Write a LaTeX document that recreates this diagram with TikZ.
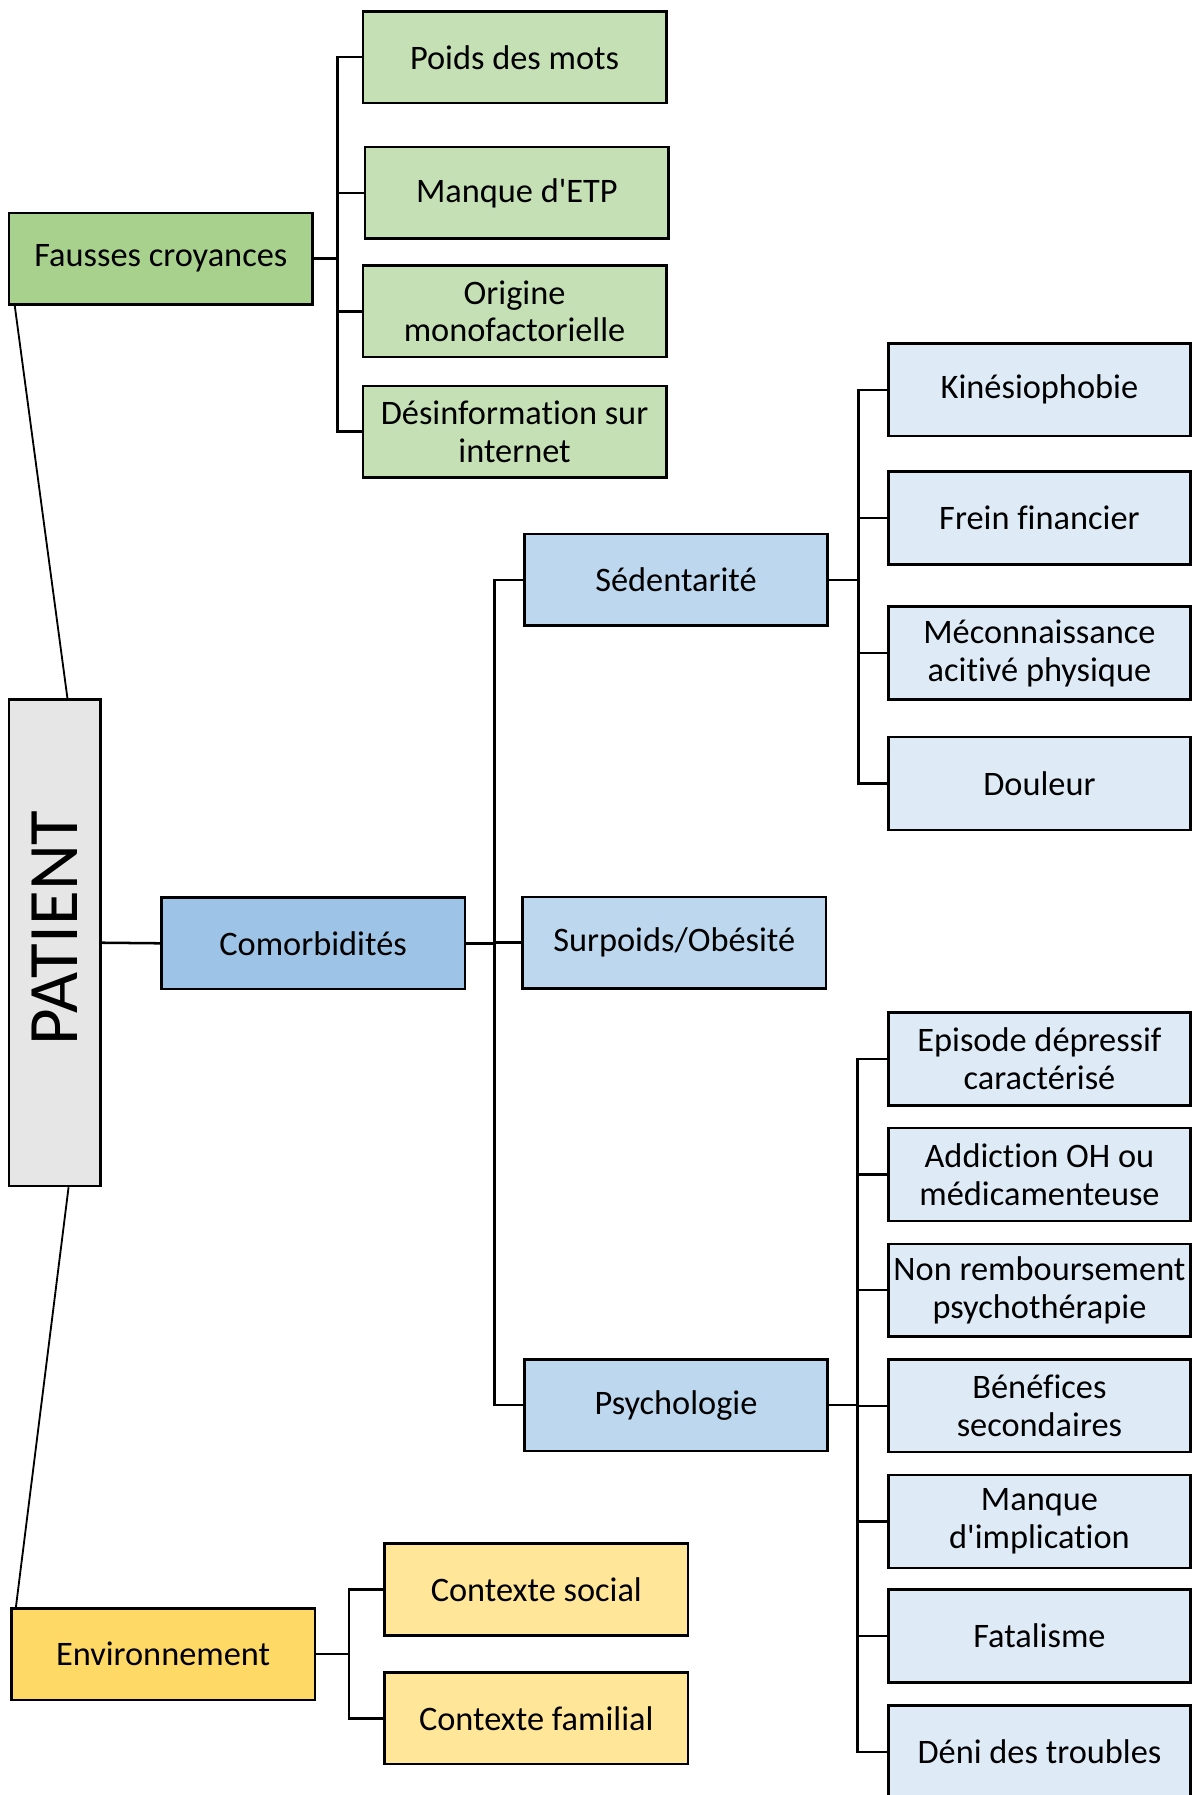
\documentclass[tikz,border=0pt]{standalone}
\usepackage{fontspec}
\usepackage{graphicx}
\setmainfont{Carlito}[Ligatures={TeXOff,CommonOff}]
\usetikzlibrary{calc}
\definecolor{gdark}{HTML}{A9D18E}
\definecolor{glight}{HTML}{C5E0B4}
\definecolor{bdark}{HTML}{9DC3E6}
\definecolor{bmid}{HTML}{BDD7EE}
\definecolor{blight}{HTML}{DEEBF7}
\definecolor{greyb}{HTML}{E7E6E6}
\definecolor{ydark}{HTML}{FFD966}
\definecolor{ylight}{HTML}{FFE699}
\begin{document}
\begin{tikzpicture}[x=0.5pt,y=-0.5pt,
  box/.style={draw=black, line width=1.1pt, inner sep=0pt, align=center,
    minimum width=132.5pt, minimum height=40pt,
    font=\fontsize{15}{16.5}\selectfont},
  leaf/.style={box, minimum width=132pt, minimum height=40.5pt},
  link/.style={draw=black, line width=1.1pt},
  thin link/.style={draw=black, line width=0.8pt}]
\fill[white] (0,0) rectangle (1041,1568);
\useasboundingbox (0,0) rectangle (1041,1568);

% Fausses croyances branch
\node[box, fill=gdark] (fc) at (140.5,226) {Fausses croyances};
\node[box, fill=glight] (p1) at (449.5,50) {Poids des mots};
\node[box, fill=glight] (p2) at (451.5,168.5) {Manque d'ETP};
\node[box, fill=glight] (p3) at (449.5,272) {Origine\\monofactorielle};
\node[box, fill=glight] (p4) at (449.5,377) {Désinformation sur\\internet};

% Patient
\node[box, fill=greyb, minimum width=40pt, minimum height=212.5pt] (pat) at (48,823.5)
  {\rotatebox{90}{\fontsize{31}{31}\selectfont\hspace{13pt}PATIENT}};

% Comorbidites branch
\node[box, fill=bdark] (com) at (273.5,824) {Comorbidités};
\node[box, fill=bmid] (sed) at (590.5,506.5) {Sédentarité};
\node[box, fill=bmid] (sur) at (589,823.5) {Surpoids/Obésité};
\node[box, fill=bmid] (psy) at (590.5,1227.5) {Psychologie};

\node[leaf, fill=blight] (k1) at (908,340.5) {Kinésiophobie};
\node[leaf, fill=blight] (k2) at (908,452.5) {Frein financier};
\node[leaf, fill=blight] (k3) at (908,570.5) {Méconnaissance\\acitivé physique};
\node[leaf, fill=blight] (k4) at (908,684.5) {Douleur};

\node[leaf, fill=blight] (q1) at (908,925) {Episode dépressif\\caractérisé};
\node[leaf, fill=blight] (q2) at (908,1026) {Addiction OH ou\\médicamenteuse};
\node[leaf, fill=blight] (q3) at (908,1127) {Non remboursement\\psychothérapie};
\node[leaf, fill=blight] (q4) at (908,1228) {Bénéfices\\secondaires};
\node[leaf, fill=blight] (q5) at (908,1329) {Manque\\d'implication};
\node[leaf, fill=blight] (q6) at (908,1429) {Fatalisme};
\node[leaf, fill=blight] (q7) at (908,1530.5) {Déni des troubles};

% Environnement branch
\node[box, fill=ydark] (env) at (142.5,1445) {Environnement};
\node[box, fill=ylight] (c1) at (468.5,1388.5) {Contexte social};
\node[box, fill=ylight] (c2) at (468.5,1501) {Contexte familial};

% Connectors
\coordinate (bfc) at (295,226);
\draw[link] (fc.east) -- (bfc);
\foreach \n in {p1,p2,p3,p4} \draw[link] (bfc) |- (\n.west);

\draw[thin link] ($(fc.south west)+(6,0)$) -- ($(pat.north west)+(52,0)$);
\draw[thin link] ($(pat.south west)+(53,0)$) -- ($(env.north west)+(5,0)$);

\draw[link] (pat.east) -- (com.west);
\coordinate (bcom) at (432,824);
\draw[link] (com.east) -- (bcom);
\foreach \n in {sed,sur,psy} \draw[link] (bcom) |- (\n.west);

\coordinate (bsed) at (750,506.5);
\draw[link] (sed.east) -- (bsed);
\foreach \n in {k1,k2,k3,k4} \draw[link] (bsed) |- (\n.west);

\coordinate (bpsy) at (749,1227.5);
\draw[link] (psy.east) -- (bpsy);
\foreach \n in {q1,q2,q3,q4,q5,q6,q7} \draw[link] (bpsy) |- (\n.west);

\coordinate (benv) at (305,1445);
\draw[link] (env.east) -- (benv);
\foreach \n in {c1,c2} \draw[link] (benv) |- (\n.west);
\end{tikzpicture}
\end{document}
